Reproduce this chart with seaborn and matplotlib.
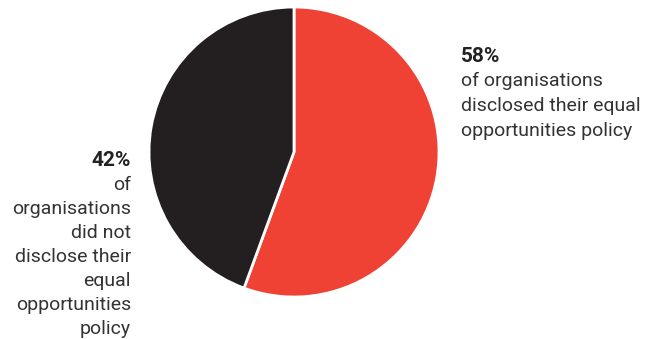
import matplotlib
matplotlib.use("Agg")
import matplotlib.pyplot as plt
import seaborn as sns

# Data (slice shares as drawn, with stated labels)
categories = ["disclosed", "did not disclose"]
shares = [55.6, 44.4]
pct_labels = ["58%", "42%"]
colors = ["#EF4134", "#231F20"]
right_lines = ["of organisations", "disclosed their equal", "opportunities policy"]
left_lines = ["of", "organisations", "did not", "disclose their", "equal", "opportunities", "policy"]

sns.set_theme(style="white")
plt.rcParams['font.family'] = ['Roboto', 'DejaVu Sans']

W, H = 659, 339
fig = plt.figure(figsize=(W / 100, H / 100), dpi=100)
fig.patch.set_facecolor("white")

cx, cy, r = 294, 152, 145
ax = fig.add_axes([(cx - r) / W, (H - cy - r) / H, 2 * r / W, 2 * r / H])
ax.pie(shares, colors=colors, startangle=90, counterclock=False,
       wedgeprops=dict(edgecolor="white", linewidth=2.0))
ax.set_xlim(-1, 1)
ax.set_ylim(-1, 1)
ax.set_aspect("equal")
ax.axis("off")

txt = "#333333"
def fy(y):
    return 1 - y / H

# Right label
fig.text(461 / W, fy(56), pct_labels[0], fontsize=15, fontweight="bold",
         color="#222222", ha="left", va="center")
for i, line in enumerate(right_lines):
    fig.text(461 / W, fy(81 + 25 * i), line, fontsize=14, color=txt,
             ha="left", va="center")

# Left label
fig.text(131 / W, fy(161), pct_labels[1], fontsize=15, fontweight="bold",
         color="#222222", ha="right", va="center")
for i, line in enumerate(left_lines):
    fig.text(131 / W, fy(185 + 24 * i), line, fontsize=14, color=txt,
             ha="right", va="center")

fig.savefig("out.png", dpi=100, facecolor="white")
